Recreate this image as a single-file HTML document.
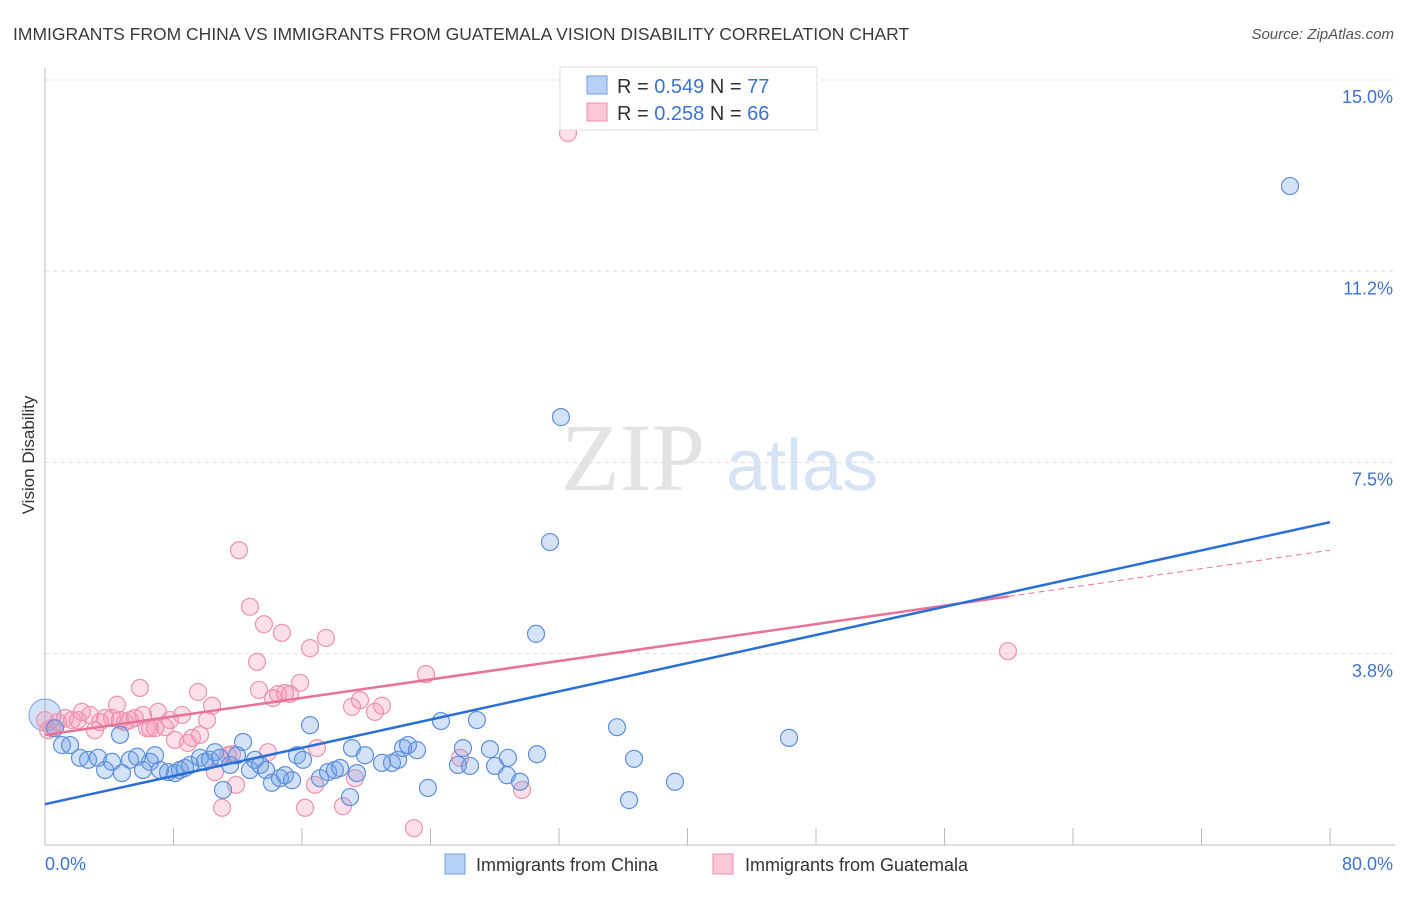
<!DOCTYPE html>
<html><head><meta charset="utf-8"><style>
body{margin:0;background:#fff;font-family:"Liberation Sans",sans-serif}
svg text{font-family:"Liberation Sans",sans-serif}
</style></head><body>
<svg id="chart" width="1406" height="892" xmlns="http://www.w3.org/2000/svg">
<text x="13" y="40" font-size="17.5" fill="#3a3a3a">IMMIGRANTS FROM CHINA VS IMMIGRANTS FROM GUATEMALA VISION DISABILITY CORRELATION CHART</text>
<text x="1394" y="39" font-size="15" fill="#555" text-anchor="end" font-style="italic">Source: ZipAtlas.com</text>
<g>
<text x="633" y="490" font-size="96" fill="#e3e3e3" text-anchor="middle" font-family="Liberation Serif" style="font-family:'Liberation Serif',serif">ZIP</text>
<text x="802" y="490" font-size="72" fill="#d5e3f5" text-anchor="middle">atlas</text>
</g>
<g id="grid"></g>
<g id="axes"></g>
<g id="points"></g>
<g id="lines"></g>
<text transform="translate(34,455) rotate(-90)" font-size="17" fill="#333" text-anchor="middle">Vision Disability</text>
<g>
<rect x="560" y="67" width="257" height="63" fill="#fff" stroke="#ddd"/>
<rect x="587" y="76" width="20" height="18" fill="#b7d0f5" stroke="#6f9ee0"/>
<rect x="587" y="103" width="20" height="18" fill="#fcc8d6" stroke="#eb8eab"/>
<text x="617" y="93" font-size="20" fill="#333">R = <tspan fill="#3d73cf">0.549</tspan>   N = <tspan fill="#3d73cf">77</tspan></text>
<text x="617" y="120" font-size="20" fill="#333">R = <tspan fill="#3d73cf">0.258</tspan>   N = <tspan fill="#3d73cf">66</tspan></text>
</g>
<g>
<rect x="445" y="854" width="20" height="20" fill="#b7d0f5" stroke="#6f9ee0"/>
<text x="476" y="871" font-size="18" fill="#333">Immigrants from China</text>
<rect x="713" y="854" width="20" height="20" fill="#fcc8d6" stroke="#eb8eab"/>
<text x="745" y="871" font-size="18" fill="#333">Immigrants from Guatemala</text>
</g>
</svg>
<script>
const chinaPx=[[55,728],[62,745],[70,745],[80,758],[88,760],[98,758],[105,770],[112,762],[120,735],[122,773],[130,760],[137,757],[143,770],[150,762],[155,755],[160,770],[168,772],[175,773],[180,770],[185,768],[190,765],[200,758],[205,762],[210,760],[215,752],[220,758],[223,790],[230,765],[237,755],[243,742],[250,770],[255,760],[260,765],[266,770],[272,783],[280,778],[285,775],[292,780],[297,755],[303,760],[310,725],[320,778],[328,772],[335,770],[340,768],[350,797],[352,748],[357,773],[365,755],[382,763],[392,763],[398,760],[403,748],[408,745],[417,750],[428,788],[441,721],[458,765],[463,748],[470,766],[477,720],[490,749],[495,766],[507,775],[508,758],[520,782],[537,754],[536,634],[550,542],[561,417],[617,727],[629,800],[634,759],[675,782],[789,738],[1290,186]];
const guatPx=[[45,720],[48,730],[52,728],[58,722],[65,718],[72,720],[78,720],[82,712],[90,715],[95,730],[100,722],[105,718],[112,718],[117,705],[120,720],[125,722],[130,720],[135,718],[140,688],[143,715],[147,728],[150,728],[155,728],[158,712],[165,727],[170,720],[175,740],[182,715],[188,743],[192,738],[198,692],[200,735],[207,720],[212,706],[215,772],[222,808],[228,755],[232,754],[236,785],[239,550],[250,607],[257,662],[259,690],[264,624],[268,752],[273,698],[278,694],[282,633],[285,693],[290,694],[300,683],[305,808],[310,648],[315,785],[317,748],[326,638],[343,806],[352,707],[355,778],[360,700],[375,712],[382,706],[414,828],[426,674],[460,758],[522,790],[568,133],[1008,651]];
// data values in percent (x: immigrant share, y: vision disability)
const chinaX=chinaPx.map(p=>+((p[0]-45)*80/1285).toFixed(2));
const chinaY=chinaPx.map(p=>+((845-p[1])/51).toFixed(2));
const guatX=guatPx.map(p=>+((p[0]-45)*80/1285).toFixed(2));
const guatY=guatPx.map(p=>+((845-p[1])/51).toFixed(2));
const yTicks=[3.75,7.5,11.25,15];
const yTickLabels=["3.8%","7.5%","11.2%","15.0%"];
const xTicks=[0,8,16,24,32,40,48,56,64,72,80];
const chinaTrend=[0.80,6.33];
const guatTrend=[2.16,5.78];
const guatSolidEnd=60;
const X=v=>45+v/80*1285, Y=v=>845-v*51;
const NS="http://www.w3.org/2000/svg";
function mk(tag,attrs,parent){const e=document.createElementNS(NS,tag);for(const k in attrs)e.setAttribute(k,attrs[k]);parent.appendChild(e);return e;}
const grid=document.getElementById('grid'),axes=document.getElementById('axes'),pts=document.getElementById('points'),lines=document.getElementById('lines');
yTicks.forEach((t,i)=>{
 const g=mk('line',{x1:45,x2:1395,y1:Y(t),y2:Y(t),stroke:'#ddd','stroke-dasharray':'4,4'},grid);
 
 
 const l=mk('text',{x:1393,y:Y(t)+23,'font-size':18,fill:'#3d73cf','text-anchor':'end'},axes);
 l.textContent=yTickLabels[i];
 
 
});
const yax=mk('line',{x1:45,x2:45,y1:68,y2:845,stroke:'#bbb'},axes);


const xax=mk('line',{x1:45,x2:1395,y1:845,y2:845,stroke:'#bbb'},axes);


xTicks.forEach(t=>{const tk=mk('line',{x1:X(t),x2:X(t),y1:828,y2:845,stroke:'#bbb'},axes);
 
 });
const xl0=mk('text',{x:45,y:870,'font-size':18,fill:'#3d73cf'},axes);xl0.textContent='0.0%';


const xl1=mk('text',{x:1393,y:870,'font-size':18,fill:'#3d73cf','text-anchor':'end'},axes);xl1.textContent='80.0%';


// big point
const big=mk('circle',{cx:X(0),cy:Y((845-715)/51),r:16,fill:'rgba(110,160,230,0.3)',stroke:'#6f9ee0'},pts);


guatX.forEach((x,i)=>{const c=mk('circle',{cx:X(x),cy:Y(guatY[i]),r:8.5,fill:'rgba(245,150,180,0.3)',stroke:'#ec93ae','stroke-width':1.2},pts);
 
 });
chinaX.forEach((x,i)=>{const c=mk('circle',{cx:X(x),cy:Y(chinaY[i]),r:8.5,fill:'rgba(110,160,230,0.3)',stroke:'#5d8fdc','stroke-width':1.2},pts);
 
 });
const gAt=v=>guatTrend[0]+(guatTrend[1]-guatTrend[0])*v/80;
const gs=mk('line',{x1:X(0),y1:Y(gAt(0)),x2:X(guatSolidEnd),y2:Y(gAt(guatSolidEnd)),stroke:'#e8739a','stroke-width':2.5},lines);


const gd=mk('line',{x1:X(guatSolidEnd),y1:Y(gAt(guatSolidEnd)),x2:X(80),y2:Y(gAt(80)),stroke:'#e8739a','stroke-width':1,'stroke-dasharray':'6,4'},lines);


const cl=mk('line',{x1:X(0),y1:Y(chinaTrend[0]),x2:X(80),y2:Y(chinaTrend[1]),stroke:'#2a6fd6','stroke-width':2.5},lines);


</script>
</body></html>
